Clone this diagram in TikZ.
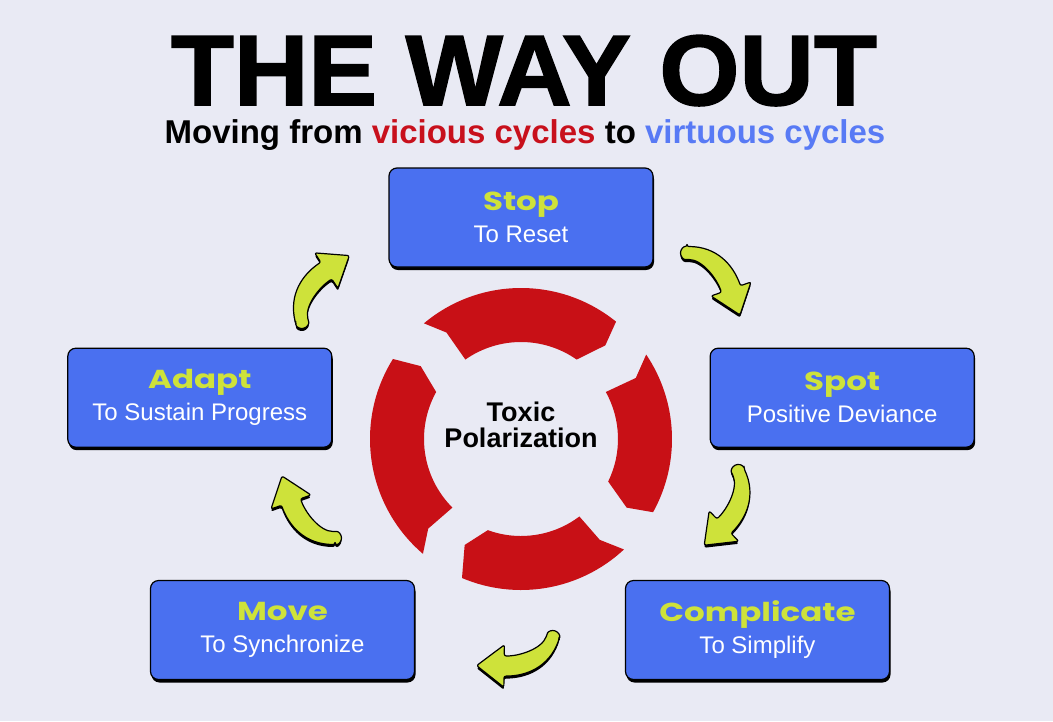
\documentclass[tikz,border=0pt]{standalone}
\usepackage{fontspec}
\setmainfont{Liberation Sans}
\newfontfamily\headfont{Poppins}[FakeStretch=1.25]
\newfontfamily\titlefont{Liberation Sans}[BoldFeatures={FakeBold=1.6, FakeStretch=1.03}]
\usetikzlibrary{positioning,shadows}

\definecolor{bgcol}{RGB}{233,234,244}
\definecolor{boxblue}{RGB}{74,112,240}
\definecolor{limetext}{RGB}{206,226,58}
\definecolor{ringred}{RGB}{200,16,22}
\definecolor{subred}{RGB}{200,16,28}
\definecolor{subblue}{RGB}{88,122,245}

% label of one step: name on top, aim below
\newcommand{\steptext}[2]{{\headfont\bfseries\fontsize{26}{32}\selectfont\color{limetext}#1}\\{\color{white}#2}}
% curved arrow between two steps: tail position, turn angle
\newcommand{\turnarrow}[2]{%
  \fill[black, shift={(#1)}, yshift=-2.5pt, rotate=#2, rounded corners=2pt, arrowshape];
  \filldraw[arrowfill, shift={(#1)}, rotate=#2, arrowshape];
}

\begin{document}
\begin{tikzpicture}[
    x=1pt, y=-1pt,
    stepbox/.style={rectangle, rounded corners=8pt, draw=black, line width=1.2pt, fill=boxblue,
        minimum width=264pt, minimum height=99pt, align=center,
        font=\fontsize{24}{32}\selectfont,
        drop shadow={shadow xshift=1pt, shadow yshift=-3pt, fill=black, opacity=1}},
    arrowfill/.style={fill=limetext, draw=black, line width=1.2pt, rounded corners=2pt, line join=round},
    arrowshape/.style={insert path={(0,-6.5) .. controls (30,-6.5) and (46,12) .. (53.5,32.7)
        -- (64,29) -- (53,62) -- (24,43) -- (34.5,39.3)
        .. controls (29.5,25) and (15,6.5) .. (0,6.5)
        arc[start angle=90, end angle=270, radius=6.5] -- cycle}},
    ringpart/.style={fill=ringred}
]
\fill[bgcol] (0,0) rectangle (1053,721);
\useasboundingbox (0,0) rectangle (1053,721);

% title
\node[font=\titlefont\bfseries\fontsize{100}{100}\selectfont, anchor=base, inner sep=0pt] (title) at (524,105) {THE WAY OUT};
\node[font=\bfseries\fontsize{33}{36}\selectfont, anchor=base, inner sep=0pt] (subtitle) at (525,143)
    {Moving from \textcolor{subred}{vicious cycles} to \textcolor{subblue}{virtuous cycles}};

% vicious cycle in the middle
\begin{scope}[shift={(521,439)}, yscale=-1]
  \fill[ringpart] (130:151) arc[start angle=130, end angle=51, radius=151]
      -- (48:126) -- (55:97) arc[start angle=55, end angle=125, radius=97] -- (125:130) -- cycle;
  \fill[ringpart] (229.5:151) arc[start angle=229.5, end angle=148, radius=151]
      -- (144:124) -- (151:97) arc[start angle=151, end angle=225, radius=97] -- (224:129) -- cycle;
  \fill[ringpart] (-47:151) arc[start angle=-47, end angle=-113, radius=151]
      -- (-118:120) -- (-110:97) arc[start angle=-110, end angle=-53, radius=97] -- (-52:128) -- cycle;
  \fill[ringpart] (34:151) arc[start angle=34, end angle=-29, radius=151]
      -- (-33:126) -- (-26:97) arc[start angle=-26, end angle=29, radius=97] -- (28:130) -- cycle;
\end{scope}
\node[align=center, font=\bfseries\fontsize{27}{26}\selectfont] (core) at (521,425) {Toxic\\Polarization};

% arrows of the virtuous cycle
\turnarrow{687,253}{0}
\turnarrow{738,471}{-65}
\turnarrow{553,637}{-110}
\turnarrow{335,538}{180}
\turnarrow{302,322}{104}

% steps
\node[stepbox] (stop) at (521,217.5) {\steptext{Stop}{To Reset}};
\node[stepbox, below right=80pt and 56pt of stop] (spot) {\steptext{Spot}{Positive Deviance}};
\node[stepbox, below left=80pt and 56pt of stop] (adapt) {\steptext{Adapt}{To Sustain Progress}};
\node[stepbox] (complicate) at (757.5,630) {\steptext{Complicate}{To Simplify}};
\node[stepbox] (move) at (282.5,630) {\steptext{Move}{To Synchronize}};
\end{tikzpicture}
\end{document}
